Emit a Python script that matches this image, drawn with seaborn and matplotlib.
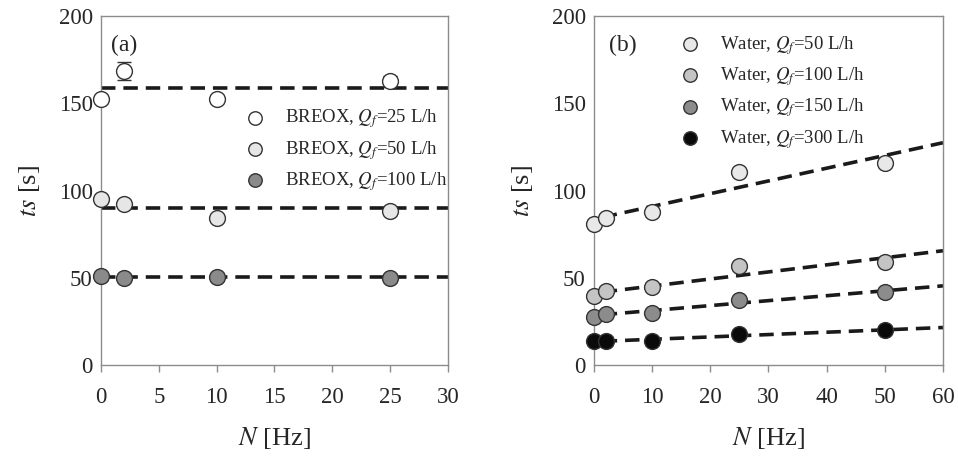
import matplotlib
matplotlib.use("Agg")
import matplotlib.pyplot as plt
import numpy as np
import pandas as pd
import seaborn as sns

sns.set_theme(style="white")
plt.rcParams['font.family'] = ['Liberation Serif', 'DejaVu Serif']
plt.rcParams['mathtext.fontset'] = 'stix'

# ---------------- data (a): BREOX ----------------
n_a = [0, 2, 10, 25]
breox_25 = [152.5, 168.5, 152.5, 162.5]
breox_25_err = [0, 5, 0, 3]
breox_50 = [95, 92.5, 84, 88.5]
breox_100 = [51, 50, 50.5, 50]
breox_fit = [159, 89.8, 50.5]        # constant fits
breox_labels = ['BREOX, $Q_f$=25 L/h', 'BREOX, $Q_f$=50 L/h', 'BREOX, $Q_f$=100 L/h']
breox_colors = ['#ffffff', '#e6e6e6', '#8a8a8a']

# ---------------- data (b): water ----------------
n_b = [0, 2, 10, 25, 50]
water_50 = [81, 84.5, 87.5, 110.5, 116]
water_100 = [39.5, 42.5, 44.5, 56.5, 59]
water_150 = [27.5, 29, 30, 37, 42]
water_300 = [13.5, 14, 14, 18, 20]
water_intercept = [83.6, 41.2, 28.4, 13.4]
water_slope = [0.73, 0.405, 0.283, 0.135]
water_labels = ['Water, $Q_f$=50 L/h', 'Water, $Q_f$=100 L/h',
                'Water, $Q_f$=150 L/h', 'Water, $Q_f$=300 L/h']
water_colors = ['#e8e8e8', '#c4c4c4', '#8c8c8c', '#0a0a0a']

fig = plt.figure(figsize=(9.58, 4.61), dpi=100)
ax1 = fig.add_axes([0.1054, 0.2082, 0.3622, 0.757])
ax2 = fig.add_axes([0.620, 0.2082, 0.3643, 0.757])

spine_col = '#8c8c8c'
mk = dict(s=130, edgecolor='#333333', linewidth=1.0, zorder=3)
leg_kw = dict(loc='upper left', frameon=False, fontsize=13.5, handletextpad=0.6,
              labelspacing=0.45, borderaxespad=0, markerscale=0.85)

# ---------------- panel (a) ----------------
for yv in breox_fit:
    ax1.plot([0, 30], [yv, yv], ls=(0, (4, 2.2)), color='#1a1a1a', lw=2.6, zorder=2)
ax1.errorbar(n_a, breox_25, yerr=breox_25_err, fmt='none', ecolor='#333333',
             elinewidth=1, capsize=5, zorder=2)
for vals, lab, col in zip([breox_25, breox_50, breox_100], breox_labels, breox_colors):
    sns.scatterplot(x=n_a, y=vals, ax=ax1, color=col, label=lab, clip_on=False, **mk)
ax1.set_xlim(0, 30)
ax1.set_xticks(range(0, 31, 5))
ax1.text(0.9, 183, '(a)', fontsize=17, va='center')
ax1.legend(bbox_to_anchor=(0.367, 0.76), **leg_kw)

# ---------------- panel (b) ----------------
xfit = np.array([1.5, 60])
for b0, b1 in zip(water_intercept, water_slope):
    ax2.plot(xfit, b0 + b1 * xfit, ls=(0, (4, 2.2)), color='#1a1a1a', lw=2.6, zorder=2)
for vals, lab, col in zip([water_50, water_100, water_150, water_300], water_labels, water_colors):
    sns.scatterplot(x=n_b, y=vals, ax=ax2, color=col, label=lab, clip_on=False, **mk)
ax2.set_xlim(0, 60)
ax2.set_xticks(range(0, 61, 10))
ax2.text(2.6, 183, '(b)', fontsize=17, va='center')
ax2.legend(bbox_to_anchor=(0.2, 0.971), **leg_kw)

for ax in (ax1, ax2):
    ax.set_ylim(0, 200)
    ax.set_yticks(range(0, 201, 50))
    for sp in ax.spines.values():
        sp.set_color(spine_col)
        sp.set_linewidth(1.0)
    ax.tick_params(axis='x', direction='out', length=5, width=1, color=spine_col,
                   labelsize=16.5, pad=11, bottom=True)
    ax.tick_params(axis='y', length=0, labelsize=16.5, pad=6)
    ax.set_xlabel('$N$ [Hz]', fontsize=19, labelpad=12)
    ax.set_ylabel('$ts$ [s]', fontsize=19, labelpad=12)
    ax.grid(False)

fig.savefig('out.png', dpi=100)
